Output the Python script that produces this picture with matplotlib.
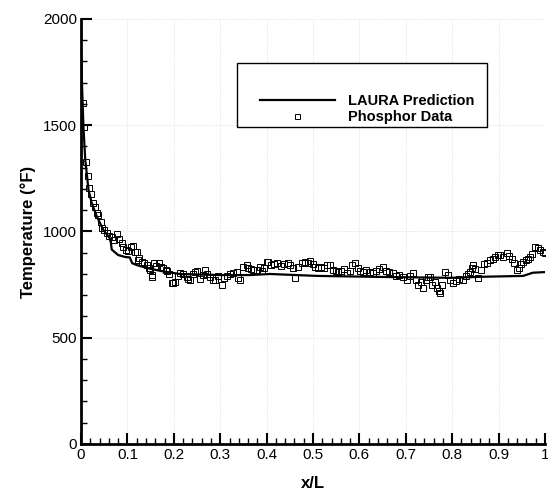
import matplotlib.pyplot as plt
from matplotlib.patches import Rectangle
from matplotlib.ticker import MultipleLocator

plt.rcParams['font.family'] = ['Liberation Sans', 'DejaVu Sans']

# LAURA prediction
laura_x = [0.0, 0.005, 0.009, 0.016, 0.023, 0.034, 0.048, 0.062, 0.064, 0.066,
           0.08, 0.095, 0.105, 0.11, 0.12, 0.142, 0.177, 0.213, 0.3, 0.364,
           0.407, 0.508, 0.651, 0.795, 0.867, 0.953, 0.974, 1.0]
laura_t = [1820, 1492, 1336, 1195, 1133, 1070, 1007, 968, 950, 915,
           889, 880, 878, 851, 842, 828, 812, 800, 795, 795,
           800, 791, 786, 782, 787, 791, 806, 809]

# phosphor data
data_x = [0.004, 0.006, 0.01, 0.014, 0.017, 0.021, 0.025, 0.029, 0.034, 0.037,
          0.042, 0.046, 0.05, 0.055, 0.061, 0.066, 0.071, 0.077, 0.082, 0.088,
          0.091, 0.097, 0.102, 0.107, 0.111, 0.116, 0.12, 0.123, 0.125, 0.131,
          0.136, 0.142, 0.146, 0.149, 0.152, 0.153, 0.158, 0.162, 0.167, 0.172,
          0.177, 0.182, 0.185, 0.19, 0.195, 0.198, 0.203, 0.208, 0.213, 0.22,
          0.228, 0.231, 0.235, 0.242, 0.246, 0.249, 0.256, 0.262, 0.267, 0.272,
          0.278, 0.285, 0.289, 0.296, 0.303, 0.309, 0.314, 0.32, 0.328, 0.336,
          0.339, 0.343, 0.35, 0.357, 0.36, 0.366, 0.371, 0.379, 0.386, 0.39,
          0.395, 0.4, 0.403, 0.41, 0.416, 0.422, 0.43, 0.437, 0.445, 0.45,
          0.456, 0.461, 0.468, 0.476, 0.483, 0.489, 0.494, 0.5, 0.505, 0.51,
          0.517, 0.524, 0.53, 0.537, 0.543, 0.549, 0.554, 0.56, 0.566, 0.573,
          0.58, 0.585, 0.59, 0.596, 0.602, 0.608, 0.615, 0.622, 0.629, 0.636,
          0.643, 0.651, 0.657, 0.664, 0.672, 0.678, 0.685, 0.694, 0.703, 0.709,
          0.716, 0.722, 0.727, 0.732, 0.737, 0.743, 0.748, 0.752, 0.757, 0.762,
          0.767, 0.771, 0.774, 0.779, 0.784, 0.79, 0.796, 0.802, 0.808, 0.815,
          0.823, 0.83, 0.834, 0.838, 0.842, 0.845, 0.85, 0.856, 0.862, 0.868,
          0.875, 0.881, 0.887, 0.893, 0.898, 0.903, 0.91, 0.918, 0.923, 0.929,
          0.934, 0.939, 0.944, 0.948, 0.953, 0.958, 0.963, 0.968, 0.973, 0.978,
          0.984, 0.989, 0.995, 1.0]
data_t = [1604, 1492, 1325, 1263, 1204, 1177, 1133, 1116, 1088, 1078,
          1046, 1015, 1007, 992, 980, 972, 960, 986, 963, 944,
          926, 915, 910, 925, 934, 904, 905, 866, 874, 858,
          852, 842, 830, 819, 795, 786, 852, 839, 851, 835,
          827, 820, 812, 800, 757, 758, 760, 790, 803, 800,
          787, 776, 773, 800, 809, 812, 775, 795, 821, 800,
          788, 772, 773, 790, 748, 780, 791, 800, 803, 809,
          779, 772, 834, 842, 830, 825, 818, 819, 834, 815,
          830, 857, 856, 840, 848, 852, 838, 845, 852, 840,
          830, 781, 835, 852, 858, 850, 861, 845, 835, 828,
          835, 830, 842, 840, 820, 815, 809, 815, 825, 804,
          815, 840, 852, 830, 815, 809, 818, 810, 804, 815,
          825, 833, 815, 810, 804, 790, 795, 787, 772, 790,
          804, 770, 748, 760, 733, 770, 785, 786, 750, 760,
          734, 720, 711, 750, 809, 795, 770, 757, 765, 775,
          772, 790, 800, 809, 830, 842, 825, 781, 820, 845,
          852, 866, 872, 880, 889, 889, 880, 898, 885, 871,
          850, 819, 830, 845, 856, 865, 872, 880, 895, 927,
          920, 913, 905, 898]

fig = plt.figure(figsize=(5.48, 4.93), dpi=100)
ax = fig.add_axes([0.148, 0.0994, 0.8465, 0.8621])

ax.plot(laura_x, laura_t, color='black', lw=1.6, label='LAURA Prediction', zorder=3)
ax.plot(data_x, data_t, ls='none', marker='s', ms=4.5, mfc='none', mec='black',
        mew=0.7, label='Phosphor Data', zorder=2)

ax.set_xlim(0, 1)
ax.set_ylim(0, 2000)
ax.xaxis.set_minor_locator(MultipleLocator(0.02))
ax.yaxis.set_major_locator(MultipleLocator(500))
ax.yaxis.set_minor_locator(MultipleLocator(100))
ax.set_xticks([i / 10 for i in range(11)])
ax.set_xticklabels(['0', '0.1', '0.2', '0.3', '0.4', '0.5', '0.6', '0.7', '0.8', '0.9', '1'])

for s in ['top', 'right']:
    ax.spines[s].set_visible(False)
for s in ['left', 'bottom']:
    ax.spines[s].set_linewidth(2)

ax.tick_params(which='major', direction='in', length=8, width=1.5, labelsize=11, pad=3)
ax.tick_params(which='minor', direction='in', length=4, width=1)
ax.grid(True, which='major', ls=':', lw=0.6, color='#d8d8d8')
ax.set_axisbelow(True)

ax.set_xlabel('x/L', fontsize=12, fontweight='bold', labelpad=10)
ax.set_ylabel('Temperature (°F)', fontsize=12, fontweight='bold', labelpad=5)

# legend box drawn separately so its padding matches the original
ax.add_patch(Rectangle((0.336, 0.746), 0.539, 0.150, transform=ax.transAxes,
                       facecolor='white', edgecolor='black', lw=1, zorder=4))
leg = ax.legend(loc='upper left', bbox_to_anchor=(0.386, 0.823), frameon=False,
                prop={'weight': 'bold', 'size': 10.5},
                handlelength=5.1, handletextpad=0.9,
                borderpad=0, borderaxespad=0, labelspacing=0.1, markerscale=0.8)
leg.set_zorder(5)

fig.savefig('out.png', dpi=100)
